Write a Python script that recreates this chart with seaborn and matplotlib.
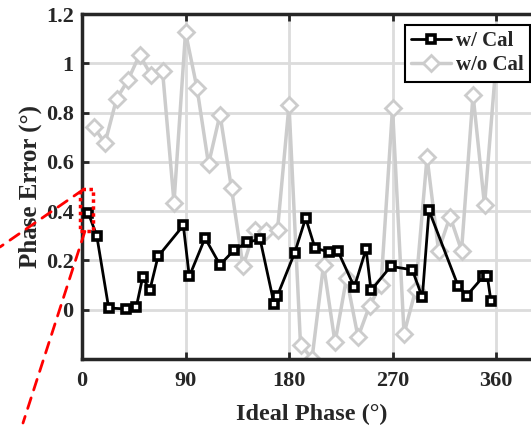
import matplotlib
matplotlib.use("Agg")
import matplotlib.pyplot as plt
import seaborn as sns
from matplotlib.patches import Rectangle, ConnectionPatch
from matplotlib.ticker import FuncFormatter

# w/ Cal (black squares)
cal_phase = [5.5, 12.8, 23.2, 38.3, 47.2, 52.8, 58.9, 66.1, 88.1, 93.3, 107, 120,
             132.4, 143.7, 154.8, 167, 169.9, 185, 194.5, 202.6, 215, 222.3, 236.8,
             247, 251.3, 268.4, 287.2, 295.9, 301.7, 327, 334.5, 349, 352.4, 355.6]
cal_err = [0.392, 0.301, 0.007, 0.003, 0.011, 0.133, 0.078, 0.216, 0.342, 0.135,
           0.291, 0.182, 0.243, 0.273, 0.287, 0.024, 0.057, 0.232, 0.372, 0.25,
           0.234, 0.24, 0.092, 0.246, 0.078, 0.176, 0.162, 0.05, 0.403, 0.097,
           0.057, 0.135, 0.137, 0.034]

# w/o Cal (gray diamonds)
nocal_phase = [10, 20, 30, 40, 50, 60, 70, 80, 90, 100, 110, 120, 130, 140, 150,
               160, 170, 180, 190, 200, 210, 220, 230, 240, 250, 260, 270, 280,
               290, 300, 310, 320, 330, 340, 350, 360]
nocal_err = [0.743, 0.676, 0.855, 0.932, 1.034, 0.953, 0.970, 0.435, 1.126, 0.899,
             0.591, 0.792, 0.492, 0.176, 0.324, 0.318, 0.324, 0.831, -0.142, -0.198,
             0.182, -0.133, 0.128, -0.111, 0.016, 0.101, 0.818, -0.097, 0.078, 0.619,
             0.24, 0.378, 0.24, 0.872, 0.423, 1.0]

x_ticks = [0, 90, 180, 270, 360]
y_ticks = [0, 0.2, 0.4, 0.6, 0.8, 1.0, 1.2]

sns.set_theme(style="white")
plt.rcParams["font.family"] = ["Liberation Serif", "DejaVu Serif"]
plt.rcParams["font.weight"] = "bold"

fig = plt.figure(figsize=(5.31, 4.25), dpi=100)
ax = fig.add_axes([82 / 531, 66 / 425, 449 / 531, 345 / 425])

gray = "#cccccc"
sns.lineplot(x=nocal_phase, y=nocal_err, ax=ax, color=gray, linewidth=2.5,
             marker="D", markersize=8, markerfacecolor="white",
             markeredgecolor=gray, markeredgewidth=2, label="w/o Cal", zorder=2)
sns.lineplot(x=cal_phase, y=cal_err, ax=ax, color="black", linewidth=2,
             marker="s", markersize=6, markerfacecolor="white",
             markeredgecolor="black", markeredgewidth=2.6, label="w/ Cal", zorder=3)

ax.set_xlim(0, 390.4)
ax.set_ylim(-0.2, 1.2)
ax.set_xticks(x_ticks)
ax.set_yticks(y_ticks)
ax.yaxis.set_major_formatter(FuncFormatter(lambda v, p: f"{v:g}"))
ax.grid(True, color="#dcdcdc", linewidth=2)
ax.set_axisbelow(True)

for side in ["left", "bottom", "top"]:
    ax.spines[side].set_color("#262626")
    ax.spines[side].set_linewidth(2.5)
ax.spines["right"].set_visible(False)
ax.tick_params(axis="both", direction="in", length=5, width=2, color="#262626",
               labelsize=16, top=True, left=True, bottom=True)
ax.tick_params(axis="x", pad=9)
ax.tick_params(axis="y", pad=6)
for lab in ax.get_xticklabels() + ax.get_yticklabels():
    lab.set_fontweight("bold")
    lab.set_color("#262626")

ax.set_xlabel("Ideal Phase (°)", fontsize=17.5, fontweight="bold", color="#262626",
              labelpad=6)
ax.xaxis.set_label_coords(0.511, -0.13)
ax.xaxis.label.set_va("top")
ax.set_ylabel("Phase Error (°)", fontsize=18, fontweight="bold", color="#262626",
              labelpad=3)

handles, labels = ax.get_legend_handles_labels()
leg = ax.legend(handles[::-1], labels[::-1], loc="upper right",
                bbox_to_anchor=(0.998, 0.968), fontsize=15, frameon=True,
                fancybox=False, framealpha=1, edgecolor="black",
                handlelength=1.9, handletextpad=0.25, borderpad=0.3,
                labelspacing=0.2, borderaxespad=0)
leg.get_frame().set_linewidth(1.5)
leg.set_zorder(5)
for t in leg.get_texts():
    t.set_fontweight("bold")

# zoom marker
ax.add_patch(Rectangle((-1.8, 0.318), 11.3, 0.17, fill=False, edgecolor="red",
                       linestyle=(0, (1, 1)), linewidth=2.5, clip_on=False, zorder=6))
for start, end in [((1, 0.487), (0.0, 1 - 247 / 425)),
                   ((2.5, 0.318), (23 / 531, 1 - 423 / 425))]:
    con = ConnectionPatch(xyA=start, coordsA=ax.transData, xyB=end,
                          coordsB=fig.transFigure, color="red", linewidth=2,
                          linestyle=(0, (4, 3)))
    fig.add_artist(con)

fig.savefig("out.png", dpi=100)
